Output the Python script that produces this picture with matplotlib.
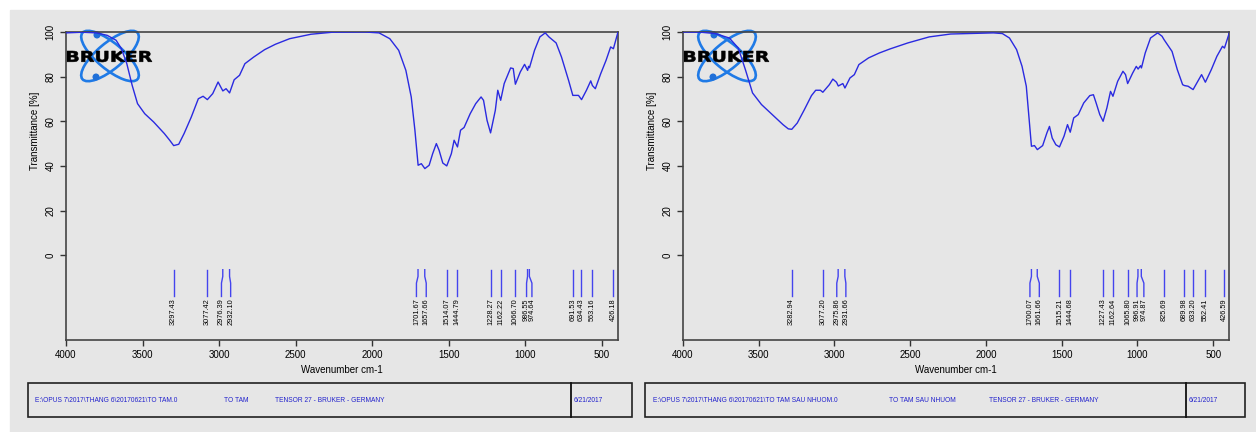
import numpy as np
import matplotlib.pyplot as plt
from matplotlib.patches import Ellipse, Circle, Rectangle, PathPatch
from matplotlib.textpath import TextPath
from matplotlib.font_manager import FontProperties
from matplotlib.transforms import Affine2D

plt.rcParams['font.family'] = ['Liberation Sans', 'DejaVu Sans']

# --- spectrum 1: TO TAM ---
wn_a = [4000, 3895, 3801, 3731, 3673, 3638, 3603, 3568, 3533, 3486, 3428, 3358, 3323,
        3297, 3264, 3229, 3182, 3136, 3105, 3077, 3042, 3007, 2990, 2976, 2955, 2932,
        2902, 2867, 2832, 2774, 2703, 2633, 2540, 2400, 2260, 2049, 1956, 1886, 1828,
        1781, 1746, 1722, 1701, 1680, 1657, 1629, 1606, 1582, 1564, 1540, 1514, 1484,
        1466, 1444, 1424, 1401, 1361, 1325, 1290, 1274, 1251, 1228, 1197, 1181, 1162,
        1139, 1097, 1080, 1066, 1034, 1006, 986, 980, 974, 941, 906, 871, 847, 800, 765,
        719, 691, 654, 634, 602, 574, 563, 544, 509, 474, 444, 426, 396]
t_a = [99.6, 99.9, 99.6, 98.5, 96.3, 92.5, 85.8, 76.1, 67.9, 63.4, 59.7, 54.5, 51.5,
       49.1, 49.7, 54.5, 61.9, 70.1, 71.2, 69.7, 72.4, 77.6, 75.4, 73.6, 74.6, 72.7,
       78.6, 80.6, 85.8, 88.8, 92.1, 94.5, 97.0, 99.0, 99.9, 100.0, 99.6, 97.0, 91.8,
       82.8, 70.9, 56.0, 40.3, 41.0, 38.8, 40.3, 45.5, 50.0, 47.0, 41.3, 40.0, 45.5,
       51.5, 48.5, 56.0, 57.2, 63.4, 67.9, 70.9, 69.4, 60.4, 54.8, 64.9, 73.9, 69.4,
       76.9, 83.9, 83.6, 76.6, 82.1, 85.5, 82.8, 84.6, 84.0, 91.8, 97.8, 99.6, 97.8,
       95.1, 88.8, 78.4, 71.6, 71.6, 69.7, 73.9, 78.1, 76.0, 74.6, 81.3, 87.3, 93.3,
       92.5, 100.0]
peaks_a = [3297.43, 3077.42, 2976.39, 2932.10, 1701.67, 1657.66, 1514.07, 1444.79,
           1228.27, 1162.22, 1066.70, 986.55, 974.64, 691.53, 634.43, 563.16, 426.18]
# where each peak label sits (spread apart when two peaks are close)
lab_a = [3297.43, 3077.42, 2985, 2925, 1712, 1648, 1514.07, 1444.79,
         1228.27, 1162.22, 1066.70, 993, 958, 691.53, 634.43, 563.16, 426.18]

# --- spectrum 2: TO TAM SAU NHUOM ---
wn_b = [4000, 3882, 3788, 3694, 3635, 3588, 3541, 3482, 3411, 3340, 3305, 3282, 3246,
        3199, 3152, 3124, 3093, 3077, 3034, 3011, 2987, 2975, 2945, 2931, 2898, 2869,
        2839, 2775, 2704, 2634, 2516, 2375, 2233, 1951, 1892, 1845, 1798, 1762, 1734,
        1715, 1700, 1680, 1661, 1626, 1598, 1581, 1563, 1539, 1515, 1485, 1462, 1444,
        1421, 1391, 1355, 1315, 1291, 1273, 1249, 1227, 1202, 1178, 1162, 1131, 1096,
        1079, 1065, 1032, 1008, 996, 980, 974, 949, 914, 867, 838, 825, 772, 737, 702,
        690, 666, 633, 608, 577, 552, 513, 476, 439, 426, 392]
t_b = [100.0, 99.9, 99.3, 97.3, 92.8, 83.1, 72.7, 67.5, 63.0, 58.5, 56.6, 56.4, 59.2,
       65.2, 71.5, 73.9, 73.9, 73.0, 76.4, 78.9, 77.5, 75.8, 76.9, 74.9, 79.4, 80.9,
       85.4, 88.4, 90.6, 92.4, 95.1, 97.8, 99.1, 99.6, 99.3, 97.3, 92.1, 84.6, 75.7,
       60.7, 48.8, 49.1, 47.3, 49.1, 54.8, 57.7, 52.5, 49.5, 48.5, 53.3, 58.5, 55.1,
       61.5, 63.0, 68.2, 71.5, 71.9, 68.2, 63.0, 60.0, 66.0, 73.4, 71.2, 77.9, 82.4,
       80.9, 76.9, 81.6, 84.6, 83.4, 84.9, 83.9, 90.6, 97.3, 99.6, 98.1, 96.6, 91.3,
       83.1, 76.4, 76.0, 75.7, 74.2, 77.2, 80.9, 77.5, 83.1, 89.1, 93.6, 92.8, 100.0]
peaks_b = [3282.94, 3077.20, 2975.86, 2931.66, 1700.07, 1661.66, 1515.21, 1444.68,
           1227.43, 1162.64, 1065.80, 996.91, 974.87, 825.69, 689.98, 633.20, 552.41,
           426.59]
lab_b = [3282.94, 3077.20, 2985, 2925, 1710, 1648, 1515.21, 1444.68,
         1227.43, 1162.64, 1065.80, 1003, 958, 825.69, 689.98, 633.20, 552.41,
         426.59]

footer_a = ['E:\\OPUS 7\\2017\\THANG 6\\20170621\\TO TAM.0', 'TO TAM',
            'TENSOR 27 - BRUKER - GERMANY', '6/21/2017']
footer_b = ['E:\\OPUS 7\\2017\\THANG 6\\20170621\\TO TAM SAU NHUOM.0', 'TO TAM SAU NHUOM',
            'TENSOR 27 - BRUKER - GERMANY', '6/21/2017']

W, H = 1256, 432
fig = plt.figure(figsize=(W / 100, H / 100), dpi=100, facecolor='white')

# pixel-space overlay for background, logos and footer boxes
bg = fig.add_axes([0, 0, 1, 1])
bg.set_xlim(0, W)
bg.set_ylim(H, 0)
bg.axis('off')
bg.add_patch(Rectangle((10, 10), W - 10, H - 10, color='#e6e6e6', zorder=0))

BLUE = '#2a2ae0'
TXT = '#2222cc'

word = TextPath((0, 0), 'BRUKER', size=10, prop=FontProperties(family='DejaVu Sans', weight='bold'))
wb = word.get_extents()


def logo(cx, cy):
    for ang in (40, -40):
        e = Ellipse((cx, cy), 72, 26, angle=ang, fill=False, ec='#1f7ae6', lw=1.9, zorder=3)
        bg.add_patch(e)
    for px, py in ((cx - 13, cy - 21), (cx - 14, cy + 21)):
        bg.add_patch(Circle((px, py), 2.8, color='#1f6fd8', zorder=3))
    # stretched bold wordmark, 85 px wide and 11 px tall
    x0, x1, ytop, ybot = cx - 43, cx + 42, cy - 5, cy + 6
    tr = (Affine2D().translate(-wb.x0, -wb.y0)
          .scale((x1 - x0) / wb.width, -(ybot - ytop) / wb.height)
          .translate(x0, ybot))
    bg.add_patch(PathPatch(tr.transform_path(word), fc='black', ec='black', lw=0.4, zorder=4))


def footer(x0, x1, xdiv, texts, xs):
    bg.add_patch(Rectangle((x0, 383), x1 - x0, 34, fill=False, ec='#222222', lw=1.2, zorder=2))
    bg.plot([xdiv, xdiv], [383, 417], color='#111111', lw=1.3, zorder=2)
    for t, x in zip(texts, xs):
        bg.text(x, 401, t, fontsize=4.8, color=TXT, va='center', ha='left')


footer(28, 632, 571, footer_a, [35, 224, 275, 574])
footer(645, 1245, 1186, footer_b, [653, 889, 989, 1189])


def panel(rect, wn, t, peaks, labs):
    ax = fig.add_axes(rect)
    ax.set_facecolor('none')
    ax.plot(wn, t, color=BLUE, lw=1.0, zorder=3)
    for p, lp in zip(peaks, labs):
        ax.plot([p, p, lp, lp], [-6.5, -9.5, -12.5, -18.5], color='#4444ee', lw=1.0)
        ax.text(lp, -19.5, f'{p:.2f}', rotation=90, fontsize=5.3, ha='center', va='top',
                color='black')
    ax.set_xlim(4000, 396)
    ax.set_ylim(-38, 100)
    ax.set_xticks([4000, 3500, 3000, 2500, 2000, 1500, 1000, 500])
    ax.set_yticks([0, 20, 40, 60, 80, 100])
    ax.tick_params(axis='both', direction='out', length=4, width=1, colors='#333333',
                   labelsize=7, labelcolor='black')
    ax.tick_params(axis='y', labelrotation=90)
    for lab in ax.get_yticklabels():
        lab.set_va('center')
    for s in ax.spines.values():
        s.set_color('#444444')
        s.set_linewidth(1.2)
    ax.set_xlabel('Wavenumber cm-1', fontsize=7, labelpad=3)
    ax.set_ylabel('Transmittance [%]', fontsize=7, labelpad=4, y=0.68)
    return ax


panel([66 / W, 92 / H, 552 / W, 308 / H], wn_a, t_a, peaks_a, lab_a)
panel([683 / W, 92 / H, 546 / W, 308 / H], wn_b, t_b, peaks_b, lab_b)

logo(110, 56)
logo(727, 56)

fig.savefig('out.png', dpi=100, facecolor=fig.get_facecolor())
